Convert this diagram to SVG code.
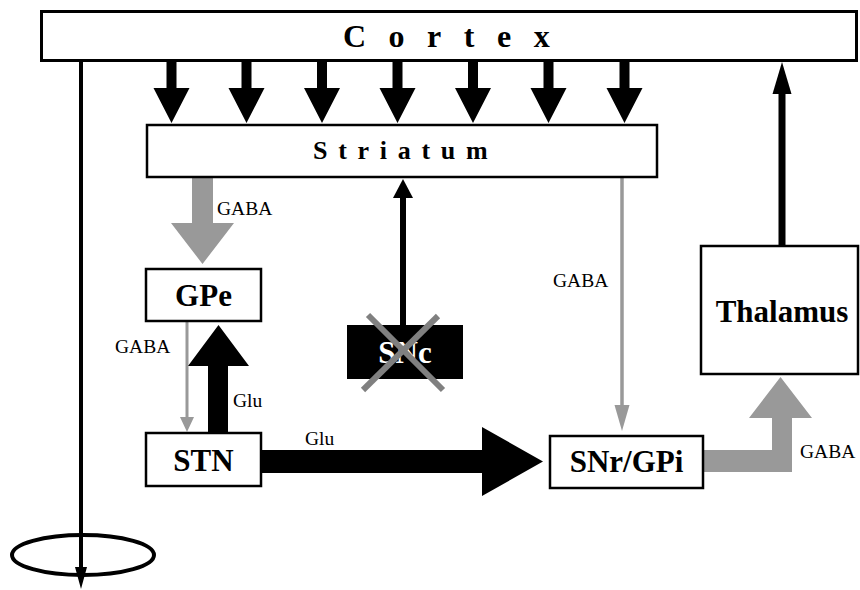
<svg xmlns="http://www.w3.org/2000/svg" width="860" height="590" viewBox="0 0 860 590">
<style>
.box{fill:#fff;stroke:#000;stroke-width:2.5}
.blk{fill:#000}
.gry{fill:#999}
.node{font-family:"Liberation Serif","Times New Roman",serif;font-weight:bold;font-size:31px;text-anchor:middle;fill:#000}
.lbl{font-family:"Liberation Serif","Times New Roman",serif;font-size:19.5px;fill:#000}
.big{font-family:"Liberation Serif","Times New Roman",serif;font-weight:bold;fill:#000}
</style>
<rect width="860" height="590" fill="#fff"/>
<g id="connectors">
  <path class="blk" d="M166.5,62H176.5V88H189.5L171.5,123L153.5,88H166.5Z"/>
  <path class="blk" d="M241.5,62H251.5V88H264.5L246.5,123L228.5,88H241.5Z"/>
  <path class="blk" d="M317,62H327V88H340L322,123L304,88H317Z"/>
  <path class="blk" d="M392.5,62H402.5V88H415.5L397.5,123L379.5,88H392.5Z"/>
  <path class="blk" d="M468,62H478V88H491L473,123L455,88H468Z"/>
  <path class="blk" d="M543.5,62H553.5V88H566.5L548.5,123L530.5,88H543.5Z"/>
  <path class="blk" d="M619.5,62H629.5V88H642.5L624.5,123L606.5,88H619.5Z"/>
  <path class="gry" d="M192,178H213V223H234L202.5,264L171,223H192Z"/>
  <line x1="187" y1="321" x2="187" y2="418" stroke="#999" stroke-width="3"/>
  <polygon class="gry" points="180,417 194,417 187,432"/>
  <path class="blk" d="M208,433H228V366H249L218.5,325L188,366H208Z"/>
  <path class="blk" d="M261,450H482V427L543,461.5L482,496V473H261Z"/>
  <line x1="622" y1="177" x2="622" y2="406" stroke="#999" stroke-width="3.5"/>
  <polygon class="gry" points="614.5,405 629.5,405 622,431"/>
  <path class="gry" d="M703,450H772V418H749L780.5,377L812,418H792V472H703Z"/>
  <line x1="782" y1="246" x2="782" y2="93" stroke="#000" stroke-width="7"/>
  <polygon class="blk" points="772.5,94 791.5,94 782,62"/>
  <line x1="403" y1="325" x2="403" y2="197" stroke="#000" stroke-width="6"/>
  <polygon class="blk" points="393,198 413,198 403,179"/>
  <line x1="81" y1="62" x2="81" y2="568" stroke="#000" stroke-width="4"/>
  <polygon class="blk" points="75,567 87,567 81,589"/>
  <ellipse cx="83" cy="555" rx="71" ry="20" fill="none" stroke="#000" stroke-width="4"/>
</g>
<g id="cortex">
  <rect x="41.5" y="11.5" width="815" height="49" fill="#fff" stroke="#000" stroke-width="3"/>
  <text class="big" x="343" y="47" font-size="32" letter-spacing="22.5">Cortex</text>
</g>
<g id="striatum">
  <rect class="box" x="147" y="125" width="510" height="52"/>
  <text class="big" x="313" y="159" font-size="26" letter-spacing="10.7">Striatum</text>
</g>
<g id="gpe">
  <rect class="box" x="146" y="269" width="115" height="52"/>
  <text class="node" x="203.5" y="306">GPe</text>
</g>
<g id="stn">
  <rect class="box" x="146" y="433" width="115" height="53"/>
  <text class="node" x="203.5" y="470.5">STN</text>
</g>
<g id="snc">
  <rect x="347" y="325" width="116" height="54" fill="#000"/>
  <text class="node" x="405" y="363" style="fill:#fff">SNc</text>
  <line x1="368" y1="315" x2="443" y2="390" stroke="#808080" stroke-width="6"/>
  <line x1="438" y1="316" x2="363" y2="390" stroke="#808080" stroke-width="6"/>
</g>
<g id="snr-gpi">
  <rect class="box" x="550" y="436" width="153" height="52"/>
  <text class="node" x="626.5" y="472">SNr/GPi</text>
</g>
<g id="thalamus">
  <rect class="box" x="701" y="246" width="157" height="128"/>
  <text class="node" x="782" y="321.5">Thalamus</text>
</g>
<g id="labels">
  <text class="lbl" x="217" y="215">GABA</text>
  <text class="lbl" x="115" y="353">GABA</text>
  <text class="lbl" x="233" y="407">Glu</text>
  <text class="lbl" x="305" y="445">Glu</text>
  <text class="lbl" x="553" y="287">GABA</text>
  <text class="lbl" x="800" y="458">GABA</text>
</g>
</svg>
